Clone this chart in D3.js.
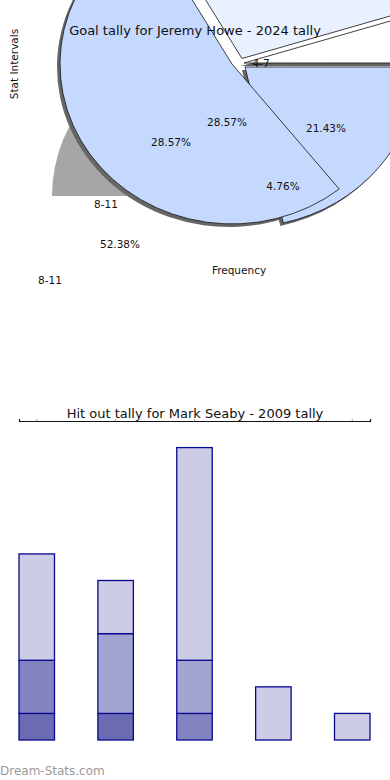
<!DOCTYPE html>
<html>
<head>
<meta charset="utf-8">
<script src="https://cdn.jsdelivr.net/npm/d3@7"></script>
<style>
  html, body { margin: 0; padding: 0; background: #fff; }
  svg { display: block; font-family: "DejaVu Sans", sans-serif; }
</style>
</head>
<body>
<svg id="chart" width="390" height="780"></svg>
<script>
// ---- goal tally pie ----
const pieTitle = "Goal tally for Jeremy Howe - 2024 tally"
const pieIntervals = ["0-3", "4-7", "12-15"]
const pieShares = [28.57, 4.76, 21.43]
const bigInterval = "8-11"
const bigShare = 52.38
const backShare = 25
const pieLabelTexts = ["28.57%", "28.57%", "21.43%", "4.76%", "52.38%", "4-7", "8-11", "8-11"]

// ---- hit out tally bars ----
const barTitle = "Hit out tally for Mark Seaby - 2009 tally"
const barCategories = ["0-3", "4-7", "8-11", "12-15", "16-19"]
const barSeries = ["a", "b", "c", "d"]
const barValues = [
    [1, 1, 0, 0, 0],
    [2, 0, 1, 0, 0],
    [0, 3, 2, 0, 0],
    [4, 2, 8, 2, 1]
]
const barTicks = [12]

// layout (not data)
const pieLayout = { cx: 237, cy: 61, r: 172, squash: 0.93, start: -30 }
const sliceStyle = {
    "0-3":   { fill: '#e9f0ff', dx: 5, dy: -2.5, shadow: false },
    "4-7":   { fill: '#ffffff', dx: 7, dy: 2, shadow: true },
    "12-15": { fill: '#c5d9ff', dx: 8, dy: 6, shadow: true },
    "8-11":  { fill: '#c5d9ff', dx: -5, dy: 3, shadow: true }
}
const labelSpots = [[-10, 65], [-66, 85], [89, 71], [46, 129], [-117, 187], [24, 6], [-131, 147], [-187, 223]]
const barColors = ['#6b6bb4', '#8383c2', '#a4a4d2', '#ccccE5']

const svg = d3.select('#chart')

// --- pie ---
let deg = Math.PI / 180
let angle = d3.scaleLinear()
    .domain([0, 100])
    .range([pieLayout.start * deg, (pieLayout.start + 360) * deg])

let arc = d3.arc().innerRadius(0).outerRadius(pieLayout.r)

let cum = d3.cumsum(pieShares)
let slices = pieIntervals.map((k, i) => ({
    key: k,
    startAngle: angle(cum[i] - pieShares[i]),
    endAngle: angle(cum[i])
}))
// the wide slice sits on top of the rest
let big = { key: bigInterval, startAngle: angle(100 - bigShare), endAngle: angle(100) }
let drawOrder = [slices[2], slices[0], slices[1], big]

let pieG = svg.append('g')

// grey backdrop sector
pieG.append('path')
    .attr('transform', `translate(200,196)`)
    .attr('d', d3.arc().innerRadius(0).outerRadius(148)({ startAngle: -90 * deg, endAngle: (-90 + backShare * 3.6) * deg }))
    .attr('fill', '#a6a6a6')

let place = (s, off) => {
    let st = sliceStyle[s.key]
    return `translate(${pieLayout.cx + st.dx + off[0]},${pieLayout.cy + st.dy + off[1]}) scale(1,${pieLayout.squash})`
}

// shadows first, then the slices on top
pieG.selectAll('path.shadow')
    .data(drawOrder.filter(s => sliceStyle[s.key].shadow))
    .join('path')
    .attr('class', 'shadow')
    .attr('transform', s => place(s, [-3, 3]))
    .attr('d', arc)
    .attr('fill', '#666')

pieG.selectAll('path.slice')
    .data(drawOrder)
    .join('path')
    .attr('class', 'slice')
    .attr('transform', s => place(s, [0, 0]))
    .attr('d', arc)
    .attr('fill', s => sliceStyle[s.key].fill)
    .attr('stroke', '#111')
    .attr('stroke-width', 0.8)
    .attr('vector-effect', 'non-scaling-stroke')

pieG.selectAll('text.lbl')
    .data(pieLabelTexts)
    .join('text')
    .attr('class', 'lbl')
    .attr('x', (d, i) => pieLayout.cx + labelSpots[i][0])
    .attr('y', (d, i) => pieLayout.cy + labelSpots[i][1])
    .attr('text-anchor', 'middle')
    .attr('font-size', 10.5)
    .attr('fill', '#111')
    .text(d => d)

svg.append('text')
    .attr('x', 195).attr('y', 35)
    .attr('text-anchor', 'middle')
    .attr('font-size', 13)
    .attr('fill', '#111')
    .text(pieTitle)

svg.append('text')
    .attr('transform', 'translate(18,64) rotate(-90)')
    .attr('text-anchor', 'middle')
    .attr('font-size', 10.5)
    .attr('fill', '#111')
    .text('Stat Intervals')

svg.append('text')
    .attr('x', 239).attr('y', 274)
    .attr('text-anchor', 'middle')
    .attr('font-size', 10.5)
    .attr('fill', '#111')
    .text('Frequency')

// --- bars ---
let xScale = d3.scaleBand()
    .domain(barCategories)
    .range([19, 370])
    .paddingInner(0.55)
    .paddingOuter(0)

let yScale = d3.scaleLinear()
    .domain([0, 12])
    .range([740, 421])

let stackData = barCategories.map((c, j) => {
    let row = { cat: c }
    barSeries.forEach((s, i) => row[s] = barValues[i][j])
    return row
})
let stacked = d3.stack().keys(barSeries)(stackData)

let barG = svg.append('g')
stacked.forEach((layer, i) => {
    barG.selectAll(null)
        .data(layer.filter(d => d[1] > d[0]))
        .join('rect')
        .attr('x', d => xScale(d.data.cat))
        .attr('y', d => yScale(d[1]))
        .attr('width', xScale.bandwidth())
        .attr('height', d => yScale(d[0]) - yScale(d[1]))
        .attr('fill', barColors[i])
        .attr('stroke', '#08088f')
        .attr('stroke-width', 1.3)
})

svg.append('clipPath').attr('id', 'tickclip')
    .append('rect').attr('x', 0).attr('y', 400).attr('width', 19).attr('height', 22.5)

let yAxis = svg.append('g')
    .attr('transform', 'translate(19,0)')
    .attr('clip-path', 'url(#tickclip)')
    .call(d3.axisLeft(yScale).tickValues(barTicks).tickSize(0).tickPadding(3))
yAxis.select('.domain').remove()
yAxis.selectAll('text').attr('font-size', 8).attr('fill', '#555').attr('font-family', 'DejaVu Sans')

let xAxis = svg.append('g')
    .attr('transform', 'translate(0,421)')
    .call(d3.axisTop(xScale).tickSize(2).tickSizeOuter(2).tickFormat(''))
xAxis.select('.domain').attr('stroke', '#111').attr('stroke-width', 1.2)
xAxis.selectAll('.tick line').attr('stroke', '#aaa')

svg.append('text')
    .attr('x', 195).attr('y', 418)
    .attr('text-anchor', 'middle')
    .attr('font-size', 13)
    .attr('fill', '#111')
    .text(barTitle)

svg.append('text')
    .attr('x', 0).attr('y', 775)
    .attr('font-size', 12)
    .attr('fill', '#9a9a9a')
    .text('Dream-Stats.com')
</script>
</body>
</html>
